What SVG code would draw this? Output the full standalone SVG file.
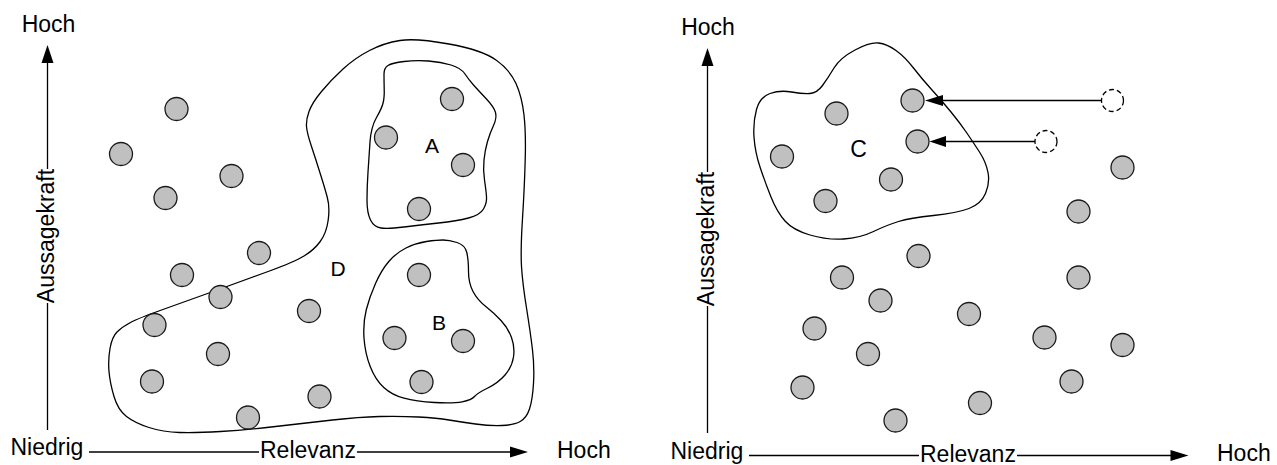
<svg xmlns="http://www.w3.org/2000/svg" width="1277" height="465" viewBox="0 0 1277 465">
<style>
text{font-family:"Liberation Sans",Arial,sans-serif;font-size:23px;fill:#000}
.lbl{text-anchor:middle}
.cl{font-size:21px}
.ax{stroke:#000;stroke-width:1.3;fill:none}
.blob{fill:none;stroke:#000;stroke-width:1.3}
.pt{fill:#c0c0c0;stroke:#1a1a1a;stroke-width:1.3}
.ghost{fill:#fff;stroke:#000;stroke-width:1.3;stroke-dasharray:5 3}
.conn{stroke:#000;stroke-width:1.3;fill:none}
</style>
<rect width="1277" height="465" fill="#fff"/>

<!-- LEFT PANEL -->
<g id="axes-left">
  <line class="ax" x1="47.5" y1="62" x2="47.5" y2="169"/>
  <line class="ax" x1="47.5" y1="303" x2="47.5" y2="430"/>
  <polygon points="47.5,45 41.5,63 53.5,63" fill="#000"/>
  <line class="ax" x1="89" y1="452" x2="259" y2="452"/>
  <line class="ax" x1="357" y1="452" x2="511" y2="452"/>
  <polygon points="528,452 510,446.5 510,457.5" fill="#000"/>
  <text class="lbl" x="48.5" y="32">Hoch</text>
  <text class="lbl" transform="translate(54,236) rotate(-90)">Aussagekraft</text>
  <text x="10.5" y="455">Niedrig</text>
  <text x="260" y="458">Relevanz</text>
  <text x="557" y="458">Hoch</text>
</g>

<g id="cluster-D">
  <path class="blob" d="M400,40.5 Q416,38 449,44 Q482,50 496,60 Q510,70 516,83.5 Q522,97 524,115 Q526,133 525.2,160 Q524.5,187 522.5,218.5 Q520.5,250 521.5,266.5 Q522.5,283 526.5,308 Q530.5,333 532.5,350 Q534.5,367 533.5,383.5 Q532.5,400 529.5,409 Q526.5,418 520.2,421.5 Q514,425 502,425.5 Q490,426 475.5,424 Q461,422 449,420 Q437,418 418.5,417 Q400,416 379.5,416.5 Q359,417 332.5,420 Q306,423 275.5,426.5 Q245,430 220.5,431.5 Q196,433 179.5,432.5 Q163,432 149,427.5 Q135,423 126.5,416.5 Q118,410 114,396.5 Q110,383 109,371.5 Q108,360 110,348.5 Q112,337 117,332 Q122,327 130.5,322.5 Q139,318 161.5,310 Q184,302 214.5,291 Q245,280 269.5,271 Q294,262 304,256 Q314,250 320.2,241.5 Q326.5,233 328.2,220 Q330,207 327.2,197 Q324.5,187 320.2,173.5 Q316,160 311.5,146.5 Q307,133 306.5,126.5 Q306,120 309,111.5 Q312,103 321.5,91.5 Q331,80 343,69 Q355,58 369.5,50.5 Q384,43 400,40.5 Z"/>
  <text class="lbl cl" x="338" y="276">D</text>
</g>

<g id="cluster-A">
  <path class="blob" d="M384,74 Q384,68 388,65.5 Q392,63 404,61.5 Q416,60 428.5,61 Q441,62 451,65 Q461,68 465,74 Q469,80 473.5,85 Q478,90 486,98.5 Q494,107 495.5,112.5 Q497,118 493.5,125.5 Q490,133 487.5,141.5 Q485,150 484,160 Q483,170 484.5,180 Q486,190 486.5,196.5 Q487,203 483.5,209 Q480,215 468.5,218 Q457,221 438.5,223 Q420,225 404,227 Q388,229 381,228 Q374,227 370.5,220 Q367,213 367,200 Q367,187 368,172 Q369,157 370,142 Q371,127 376.5,117.5 Q382,108 383.2,102.5 Q384.5,97 384.2,88.5 Q384,80 384,74 Z"/>
  <text class="lbl cl" x="432" y="153">A</text>
</g>

<g id="cluster-B">
  <path class="blob" d="M443,240 Q449,240 457,242.5 Q465,245 466.8,252.5 Q468.5,260 468.5,271.5 Q468.5,283 473,291.5 Q477.5,300 485.8,306.5 Q494,313 501,320.5 Q508,328 511.5,337.5 Q515,347 513.5,357 Q512,367 505,375 Q498,383 487.8,388 Q477.5,393 474.5,396.5 Q471.5,400 462.2,401.8 Q453,403.5 434.5,402.5 Q416,401.5 404,398.2 Q392,395 383.8,387.5 Q375.5,380 370.2,366.5 Q365,353 364,338 Q363,323 366.2,310 Q369.5,297 375.5,283.5 Q381.5,270 388.8,261.5 Q396,253 406,248 Q416,243 426.5,241.5 Q437,240 443,240 Z"/>
  <text class="lbl cl" x="439" y="329.5">B</text>
</g>

<g id="L1"><circle class="pt" cx="176.5" cy="109" r="11.5"/></g>
<g id="L2"><circle class="pt" cx="121" cy="154" r="11.5"/></g>
<g id="L3"><circle class="pt" cx="165.5" cy="198" r="11.5"/></g>
<g id="L4"><circle class="pt" cx="231.5" cy="176" r="11.5"/></g>
<g id="L5"><circle class="pt" cx="259" cy="253" r="11.5"/></g>
<g id="L6"><circle class="pt" cx="182" cy="275" r="11.5"/></g>
<g id="L7"><circle class="pt" cx="220.5" cy="297" r="11.5"/></g>
<g id="L8"><circle class="pt" cx="154.5" cy="325" r="11.5"/></g>
<g id="L9"><circle class="pt" cx="309" cy="311" r="11.5"/></g>
<g id="L10"><circle class="pt" cx="218" cy="354" r="11.5"/></g>
<g id="L11"><circle class="pt" cx="152" cy="381.5" r="11.5"/></g>
<g id="L12"><circle class="pt" cx="319.5" cy="396.5" r="11.5"/></g>
<g id="L13"><circle class="pt" cx="248" cy="417.5" r="11.5"/></g>
<g id="LA1"><circle class="pt" cx="452" cy="99" r="11.5"/></g>
<g id="LA2"><circle class="pt" cx="386" cy="137.5" r="11.5"/></g>
<g id="LA3"><circle class="pt" cx="463" cy="165" r="11.5"/></g>
<g id="LA4"><circle class="pt" cx="419" cy="209" r="11.5"/></g>
<g id="LB1"><circle class="pt" cx="419" cy="275" r="11.5"/></g>
<g id="LB2"><circle class="pt" cx="394.5" cy="338" r="11.5"/></g>
<g id="LB3"><circle class="pt" cx="463" cy="341" r="11.5"/></g>
<g id="LB4"><circle class="pt" cx="421.5" cy="382" r="11.5"/></g>

<!-- RIGHT PANEL -->
<g id="axes-right">
  <line class="ax" x1="707.5" y1="65" x2="707.5" y2="172"/>
  <line class="ax" x1="707.5" y1="306" x2="707.5" y2="433"/>
  <polygon points="707.5,48 701.5,66 713.5,66" fill="#000"/>
  <line class="ax" x1="749" y1="455.5" x2="919" y2="455.5"/>
  <line class="ax" x1="1017" y1="455.5" x2="1171" y2="455.5"/>
  <polygon points="1188.5,455.5 1170.5,450 1170.5,461" fill="#000"/>
  <text class="lbl" x="708" y="35">Hoch</text>
  <text class="lbl" transform="translate(714,239) rotate(-90)">Aussagekraft</text>
  <text x="670.5" y="459">Niedrig</text>
  <text x="920" y="461.5">Relevanz</text>
  <text x="1217" y="460.5">Hoch</text>
</g>

<g id="cluster-C">
  <path class="blob" d="M855,50 Q870,42 878.5,43 Q887,44 896,50.5 Q905,57 913.5,68 Q922,79 932,90 Q942,101 951,112 Q960,123 966.5,132.5 Q973,142 979.5,152 Q986,162 988,172.5 Q990,183 985.5,193.5 Q981,204 969,208.5 Q957,213 933.5,215.5 Q910,218 898.5,221.5 Q887,225 873.5,231.5 Q860,238 843.5,239 Q827,240 810,235 Q793,230 785,221 Q777,212 771,197 Q765,182 760,167 Q755,152 754,137 Q753,122 756.5,109.5 Q760,97 770,93.5 Q780,90 791.5,92 Q803,94 810,93.5 Q817,93 822.5,85.5 Q828,78 834,68 Q840,58 855,50 Z"/>
  <text class="lbl" x="858.5" y="157" font-size="20">C</text>
</g>

<g id="R1"><circle class="pt" cx="912.5" cy="100.5" r="11.5"/></g>
<g id="R2"><circle class="pt" cx="836.5" cy="113.5" r="11.5"/></g>
<g id="R3"><circle class="pt" cx="917.5" cy="141.5" r="11.5"/></g>
<g id="R4"><circle class="pt" cx="782" cy="156.5" r="11.5"/></g>
<g id="R5"><circle class="pt" cx="891" cy="179.5" r="11.5"/></g>
<g id="R6"><circle class="pt" cx="825.5" cy="201" r="11.5"/></g>
<g id="R7"><circle class="pt" cx="1122.5" cy="167.5" r="11.5"/></g>
<g id="R8"><circle class="pt" cx="1078.5" cy="211.5" r="11.5"/></g>
<g id="R9"><circle class="pt" cx="918.5" cy="256" r="11.5"/></g>
<g id="R10"><circle class="pt" cx="842" cy="277.5" r="11.5"/></g>
<g id="R11"><circle class="pt" cx="1078.5" cy="277.5" r="11.5"/></g>
<g id="R12"><circle class="pt" cx="880.5" cy="300.5" r="11.5"/></g>
<g id="R13"><circle class="pt" cx="969" cy="314" r="11.5"/></g>
<g id="R14"><circle class="pt" cx="814.5" cy="328.5" r="11.5"/></g>
<g id="R15"><circle class="pt" cx="1044.5" cy="337.5" r="11.5"/></g>
<g id="R16"><circle class="pt" cx="1122.5" cy="345" r="11.5"/></g>
<g id="R17"><circle class="pt" cx="868" cy="354" r="11.5"/></g>
<g id="R18"><circle class="pt" cx="802.5" cy="387.5" r="11.5"/></g>
<g id="R19"><circle class="pt" cx="1071.5" cy="381.5" r="11.5"/></g>
<g id="R20"><circle class="pt" cx="980" cy="403" r="11.5"/></g>
<g id="R21"><circle class="pt" cx="895.5" cy="420.5" r="11.5"/></g>
<g id="G1"><circle class="ghost" cx="1112.5" cy="100.5" r="11"/></g>
<g id="G2"><circle class="ghost" cx="1046" cy="141.5" r="11"/></g>

<g id="connectors">
  <line class="conn" x1="1101.5" y1="100.5" x2="942" y2="100.5"/>
  <polygon points="925,100.5 943,95 943,106" fill="#000"/>
  <line class="conn" x1="1035" y1="141.5" x2="945" y2="141.5"/>
  <polygon points="929.5,141.5 946,136 946,147" fill="#000"/>
</g>
</svg>
